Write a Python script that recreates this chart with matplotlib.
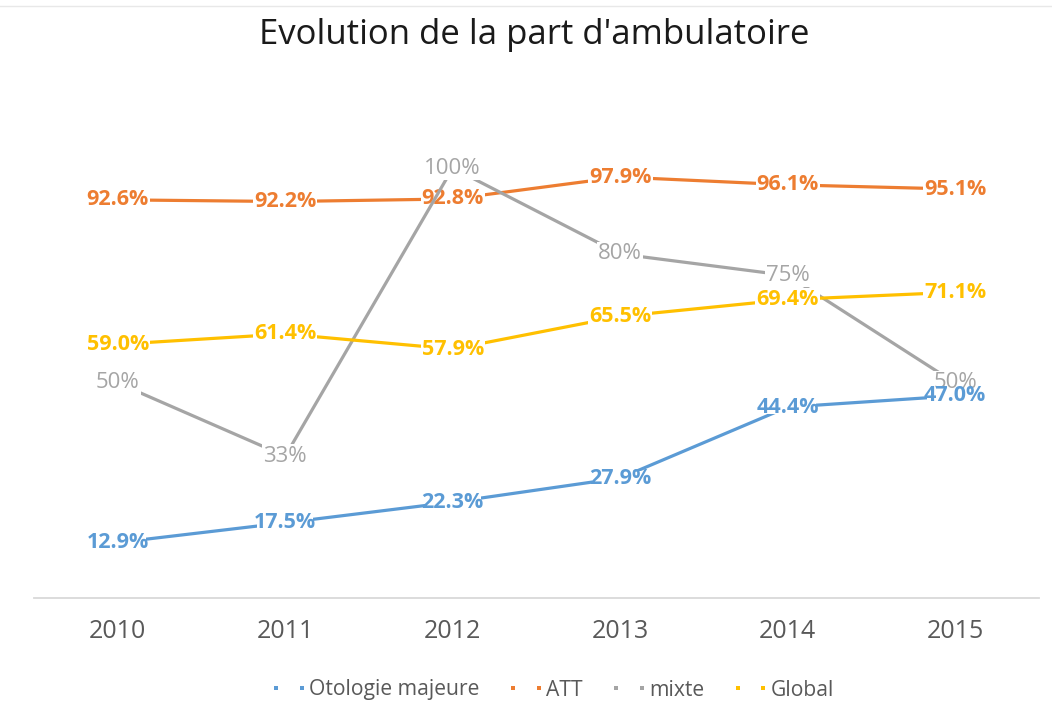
import matplotlib
matplotlib.use("Agg")
import matplotlib.pyplot as plt
from matplotlib.lines import Line2D

plt.rcParams['font.family'] = ['Open Sans', 'DejaVu Sans']

years = ["2010", "2011", "2012", "2013", "2014", "2015"]
otologie = [12.9, 17.5, 22.3, 27.9, 44.4, 47.0]
att = [92.6, 92.2, 92.8, 97.9, 96.1, 95.1]
mixte = [50, 33, 100, 80, 75, 50]
global_ = [59.0, 61.4, 57.9, 65.5, 69.4, 71.1]

series = [
    ("Otologie majeure", otologie, "#5b9bd5", "{:.1f}%", "bold", 15.5, 10, -0.15),
    ("ATT", att, "#ed7d31", "{:.1f}%", "bold", 15.5, 5, 0.05),
    ("mixte", mixte, "#a5a5a5", "{:.0f}%", "normal", 16, 7, 0.05),
    ("Global", global_, "#ffc000", "{:.1f}%", "bold", 15.5, 9, 0.05),
]

fig = plt.figure(figsize=(10.52, 7.24), dpi=100)
ax = fig.add_axes([34/1052, 1-598/724, (1039-34)/1052, (598-82)/724])
x = list(range(len(years)))
handles = []
for i, (name, vals, col, fmt, wt, fs, lz, pad) in enumerate(series):
    yv = [v/100 for v in vals]
    ax.plot(x, yv, color=col, lw=2.3, zorder=2+2*i, solid_capstyle='butt')
    for xi, v, lab in zip(x, yv, vals):
        ax.text(xi, v, fmt.format(lab), ha='center', va='center', color=col,
                fontsize=fs, fontweight=wt, zorder=lz,
                bbox=dict(boxstyle=f'square,pad={pad}', fc='white', ec='none'))
    handles.append(Line2D([], [], color=col, lw=0, marker='s', markersize=2.8,
                          markeredgewidth=0, label=name))

ax.set_xlim(-0.5, 5.5)
ax.set_ylim(0, 1.2)
ax.set_xticks(x)
ax.set_xticklabels(years)
ax.set_yticks([])
for s in ['top', 'right', 'left']:
    ax.spines[s].set_visible(False)
ax.spines['bottom'].set_color('#d9d9d9')
ax.spines['bottom'].set_linewidth(1.3)
ax.tick_params(axis='x', length=0, pad=15, labelsize=18, labelcolor='#595959')

fig.text(0.508, 1-35/724, "Evolution de la part d'ambulatoire", ha='center', va='center',
         fontsize=25, color='#1a1a1a')

fig.legend(handles=handles, loc='center', bbox_to_anchor=(552/1052, 1-690/724), ncol=4,
           frameon=False, fontsize=15.2, labelcolor='#595959', numpoints=2,
           handlelength=1.8, handletextpad=0.05, columnspacing=1.3)

fig.add_artist(Line2D([0, 1], [1-6/724, 1-6/724], color='#e8e8e8', lw=1))
fig.savefig("out.png", dpi=100)
